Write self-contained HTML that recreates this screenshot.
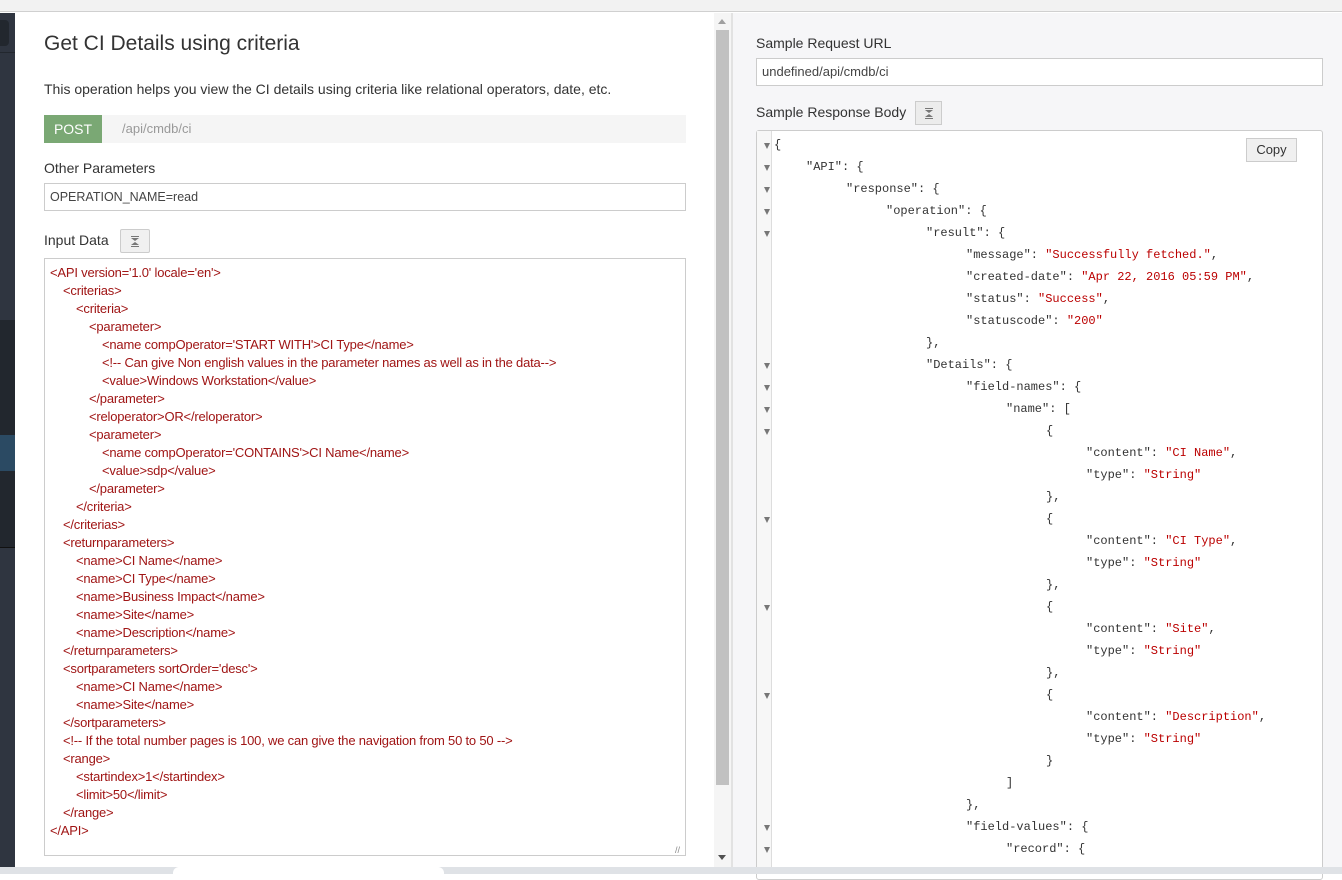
<!DOCTYPE html>
<html><head><meta charset="utf-8"><style>
*{margin:0;padding:0;box-sizing:border-box}
body{width:1342px;height:874px;overflow:hidden;position:relative;background:#fff;font-family:"Liberation Sans",sans-serif;color:#333}
.a{position:absolute}
.x{position:absolute;font-size:13px;color:#a01515;white-space:pre;line-height:18px;letter-spacing:-0.2px}
.j{position:absolute;font-family:"Liberation Mono",monospace;font-size:12px;color:#333;white-space:pre;line-height:22px}
.j b{font-weight:normal;color:#b00}
.ar{position:absolute;left:764px;width:0;height:0;border-left:3.5px solid transparent;border-right:3.5px solid transparent;border-top:6px solid #777}
</style></head><body>
<div class="a" style="left:0;top:0;width:1342px;height:12px;background:#f2f2f2;border-bottom:1px solid #d0d0d0"></div>
<!-- sidebar -->
<div class="a" style="left:0;top:13px;width:15px;height:854px;background:#2f3540"></div>
<div class="a" style="left:0;top:20px;width:9px;height:26px;background:#22272e;border-radius:0 4px 4px 0"></div>
<div class="a" style="left:0;top:52px;width:15px;height:1px;background:#22272e"></div>
<div class="a" style="left:0;top:320px;width:15px;height:228px;background:#22272e"></div>
<div class="a" style="left:0;top:435px;width:15px;height:36px;background:#2b4a63"></div>
<div class="a" style="left:0;top:547px;width:15px;height:1px;background:#111"></div>
<!-- left panel -->
<div class="a" style="left:44px;top:32px;font-size:21px;color:#333">Get CI Details using criteria</div>
<div class="a" style="left:44px;top:81px;font-size:14px;color:#333">This operation helps you view the CI details using criteria like relational operators, date, etc.</div>
<div class="a" style="left:44px;top:115px;width:642px;height:28px;background:#f5f5f5"></div>
<div class="a" style="left:44px;top:115px;width:58px;height:28px;background:#7aa874;color:#fff;font-size:14px;line-height:28px;text-align:center">POST</div>
<div class="a" style="left:122px;top:115px;line-height:28px;font-size:13px;color:#999">/api/cmdb/ci</div>
<div class="a" style="left:44px;top:160px;font-size:14px">Other Parameters</div>
<div class="a" style="left:44px;top:183px;width:642px;height:28px;border:1px solid #ccc;font-size:12.5px;line-height:26px;padding-left:5px;color:#444">OPERATION_NAME=read</div>
<div class="a" style="left:44px;top:232px;font-size:14px">Input Data</div>
<div class="a" style="left:120px;top:229px;width:30px;height:24px;border:1px solid #ccc;background:#f0f0f0;border-radius:2px">
<svg width="28" height="22" style="position:absolute;left:0;top:0"><rect x="10" y="6" width="8" height="1" fill="#777"/><path d="M10 8 L18 8 L14 11 Z M10 15 L18 15 L14 12 Z" fill="#777"/><rect x="10" y="16" width="8" height="1" fill="#777"/></svg></div>
<div class="a" style="left:44px;top:258px;width:642px;height:598px;border:1px solid #ccc"></div>
<div class="a" style="left:675px;top:845px;font-size:9px;color:#888">//</div>
<div class="x" style="left:50px;top:264px">&lt;API version='1.0' locale='en'&gt;</div>
<div class="x" style="left:63px;top:282px">&lt;criterias&gt;</div>
<div class="x" style="left:76px;top:300px">&lt;criteria&gt;</div>
<div class="x" style="left:89px;top:318px">&lt;parameter&gt;</div>
<div class="x" style="left:102px;top:336px">&lt;name compOperator='START WITH'&gt;CI Type&lt;/name&gt;</div>
<div class="x" style="left:102px;top:354px">&lt;!-- Can give Non english values in the parameter names as well as in the data--&gt;</div>
<div class="x" style="left:102px;top:372px">&lt;value&gt;Windows Workstation&lt;/value&gt;</div>
<div class="x" style="left:89px;top:390px">&lt;/parameter&gt;</div>
<div class="x" style="left:89px;top:408px">&lt;reloperator&gt;OR&lt;/reloperator&gt;</div>
<div class="x" style="left:89px;top:426px">&lt;parameter&gt;</div>
<div class="x" style="left:102px;top:444px">&lt;name compOperator='CONTAINS'&gt;CI Name&lt;/name&gt;</div>
<div class="x" style="left:102px;top:462px">&lt;value&gt;sdp&lt;/value&gt;</div>
<div class="x" style="left:89px;top:480px">&lt;/parameter&gt;</div>
<div class="x" style="left:76px;top:498px">&lt;/criteria&gt;</div>
<div class="x" style="left:63px;top:516px">&lt;/criterias&gt;</div>
<div class="x" style="left:63px;top:534px">&lt;returnparameters&gt;</div>
<div class="x" style="left:76px;top:552px">&lt;name&gt;CI Name&lt;/name&gt;</div>
<div class="x" style="left:76px;top:570px">&lt;name&gt;CI Type&lt;/name&gt;</div>
<div class="x" style="left:76px;top:588px">&lt;name&gt;Business Impact&lt;/name&gt;</div>
<div class="x" style="left:76px;top:606px">&lt;name&gt;Site&lt;/name&gt;</div>
<div class="x" style="left:76px;top:624px">&lt;name&gt;Description&lt;/name&gt;</div>
<div class="x" style="left:63px;top:642px">&lt;/returnparameters&gt;</div>
<div class="x" style="left:63px;top:660px">&lt;sortparameters sortOrder='desc'&gt;</div>
<div class="x" style="left:76px;top:678px">&lt;name&gt;CI Name&lt;/name&gt;</div>
<div class="x" style="left:76px;top:696px">&lt;name&gt;Site&lt;/name&gt;</div>
<div class="x" style="left:63px;top:714px">&lt;/sortparameters&gt;</div>
<div class="x" style="left:63px;top:732px">&lt;!-- If the total number pages is 100, we can give the navigation from 50 to 50 --&gt;</div>
<div class="x" style="left:63px;top:750px">&lt;range&gt;</div>
<div class="x" style="left:76px;top:768px">&lt;startindex&gt;1&lt;/startindex&gt;</div>
<div class="x" style="left:76px;top:786px">&lt;limit&gt;50&lt;/limit&gt;</div>
<div class="x" style="left:63px;top:804px">&lt;/range&gt;</div>
<div class="x" style="left:50px;top:822px">&lt;/API&gt;</div>
<!-- scrollbar -->
<div class="a" style="left:714px;top:13px;width:17px;height:854px;background:#f5f5f5"></div>
<div class="a" style="left:716px;top:30px;width:13px;height:755px;background:#c1c1c1"></div>
<div class="a" style="left:718px;top:19px;border-left:4px solid transparent;border-right:4px solid transparent;border-bottom:5px solid #a0a0a0"></div>
<div class="a" style="left:718px;top:855px;border-left:4px solid transparent;border-right:4px solid transparent;border-top:5px solid #505050"></div>
<!-- right panel -->
<div class="a" style="left:731px;top:13px;width:2px;height:854px;background:#e2e2e2"></div>
<div class="a" style="left:733px;top:13px;width:609px;height:854px;background:#f6f6f8"></div>
<div class="a" style="left:756px;top:35px;font-size:14px">Sample Request URL</div>
<div class="a" style="left:756px;top:58px;width:567px;height:28px;background:#fff;border:1px solid #ccc;font-size:13px;line-height:26px;padding-left:5px;color:#444">undefined/api/cmdb/ci</div>
<div class="a" style="left:756px;top:104px;font-size:14px">Sample Response Body</div>
<div class="a" style="left:915px;top:101px;width:27px;height:24px;border:1px solid #ccc;background:#ececec">
<svg width="25" height="22" style="position:absolute;left:0;top:0"><rect x="9" y="6" width="8" height="1" fill="#777"/><path d="M9 8 L17 8 L13 11 Z M9 15 L17 15 L13 12 Z" fill="#777"/><rect x="9" y="16" width="8" height="1" fill="#777"/></svg></div>
<div class="a" style="left:756px;top:130px;width:567px;height:750px;background:#fff;border:1px solid #ccc;border-radius:3px"></div>
<div class="a" style="left:757px;top:131px;width:15px;height:740px;background:#f7f7f7;border-right:1px solid #ddd"></div>
<div class="a" style="left:1246px;top:138px;width:51px;height:24px;background:#f0f0f0;border:1px solid #ccc;font-size:13px;line-height:22px;text-align:center">Copy</div>
<div class="j" style="left:774px;top:134px">{</div>
<div class="j" style="left:806px;top:156px">"API": {</div>
<div class="j" style="left:846px;top:178px">"response": {</div>
<div class="j" style="left:886px;top:200px">"operation": {</div>
<div class="j" style="left:926px;top:222px">"result": {</div>
<div class="j" style="left:966px;top:244px">"message": <b>"Successfully fetched."</b>,</div>
<div class="j" style="left:966px;top:266px">"created-date": <b>"Apr 22, 2016 05:59 PM"</b>,</div>
<div class="j" style="left:966px;top:288px">"status": <b>"Success"</b>,</div>
<div class="j" style="left:966px;top:310px">"statuscode": <b>"200"</b></div>
<div class="j" style="left:926px;top:332px">},</div>
<div class="j" style="left:926px;top:354px">"Details": {</div>
<div class="j" style="left:966px;top:376px">"field-names": {</div>
<div class="j" style="left:1006px;top:398px">"name": [</div>
<div class="j" style="left:1046px;top:420px">{</div>
<div class="j" style="left:1086px;top:442px">"content": <b>"CI Name"</b>,</div>
<div class="j" style="left:1086px;top:464px">"type": <b>"String"</b></div>
<div class="j" style="left:1046px;top:486px">},</div>
<div class="j" style="left:1046px;top:508px">{</div>
<div class="j" style="left:1086px;top:530px">"content": <b>"CI Type"</b>,</div>
<div class="j" style="left:1086px;top:552px">"type": <b>"String"</b></div>
<div class="j" style="left:1046px;top:574px">},</div>
<div class="j" style="left:1046px;top:596px">{</div>
<div class="j" style="left:1086px;top:618px">"content": <b>"Site"</b>,</div>
<div class="j" style="left:1086px;top:640px">"type": <b>"String"</b></div>
<div class="j" style="left:1046px;top:662px">},</div>
<div class="j" style="left:1046px;top:684px">{</div>
<div class="j" style="left:1086px;top:706px">"content": <b>"Description"</b>,</div>
<div class="j" style="left:1086px;top:728px">"type": <b>"String"</b></div>
<div class="j" style="left:1046px;top:750px">}</div>
<div class="j" style="left:1006px;top:772px">]</div>
<div class="j" style="left:966px;top:794px">},</div>
<div class="j" style="left:966px;top:816px">"field-values": {</div>
<div class="j" style="left:1006px;top:838px">"record": {</div>
<div class="ar" style="top:143px"></div><div class="ar" style="top:165px"></div><div class="ar" style="top:187px"></div>
<div class="ar" style="top:209px"></div><div class="ar" style="top:231px"></div><div class="ar" style="top:363px"></div>
<div class="ar" style="top:385px"></div><div class="ar" style="top:407px"></div><div class="ar" style="top:429px"></div>
<div class="ar" style="top:517px"></div><div class="ar" style="top:605px"></div><div class="ar" style="top:693px"></div>
<div class="ar" style="top:825px"></div><div class="ar" style="top:847px"></div>
<!-- bottom bar -->
<div class="a" style="left:0;top:867px;width:1342px;height:7px;background:#dfe2e6;z-index:5"></div>
<div class="a" style="left:173px;top:867px;width:271px;height:10px;background:#fff;border-radius:6px 6px 0 0;z-index:6"></div>
</body></html>
